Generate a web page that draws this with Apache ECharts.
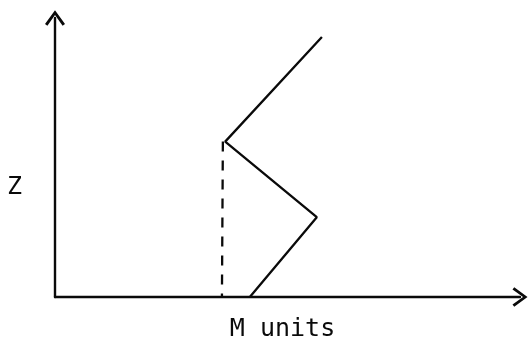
<!DOCTYPE html>
<html>
<head>
<meta charset="utf-8">
<style>
  html, body { margin: 0; padding: 0; background: #fff; }
  #chart { width: 528px; height: 347px; }
</style>
<script src="https://cdn.jsdelivr.net/npm/echarts@6/dist/echarts.min.js"></script>
</head>
<body>
<div id="chart"></div>
<script>
// Profile of M against height Z (arbitrary units)
const profileM = [41.9, 56.3, 36.6, 57.4];
const profileZ = [0, 28.6, 55.7, 93.2];

// Vertical reference drop from the lower kink down to the axis
const dropM = [36.1, 35.9];
const dropZ = [55.7, 0];

const xName = 'M units';
const yName = 'Z';

const toPairs = (xs, ys) => xs.map((x, i) => [x, ys[i]]);

// Open chevron used as the axis arrow head (points up before rotation)
const chevron = 'path://M0,0 L10,13.6 L7.6,15.4 L0,4.6 L-7.6,15.4 L-10,13.6 Z';

const ink = '#0a0a0a';
const font = '"DejaVu Sans Mono", "Liberation Mono", monospace';

const chart = echarts.init(document.getElementById('chart'), null, { renderer: 'canvas' });

chart.setOption({
  animation: false,
  backgroundColor: '#fff',
  grid: { left: 55, right: 8, top: 18, bottom: 49 },
  xAxis: {
    type: 'value',
    min: 0,
    max: 100,
    name: xName,
    nameLocation: 'middle',
    nameGap: 20,
    nameTextStyle: {
      color: ink, fontFamily: font, fontSize: 25,
      verticalAlign: 'top', padding: [0, 10, 0, 0]
    },
    axisLine: {
      show: true,
      onZero: false,
      symbol: ['none', chevron],
      symbolSize: [25, 15],
      lineStyle: { color: ink, width: 2.4 }
    },
    axisTick: { show: false },
    axisLabel: { show: false },
    splitLine: { show: false }
  },
  yAxis: {
    type: 'value',
    min: 0,
    max: 100,
    // empty first line pushes the letter below the axis midpoint
    name: '\n' + yName,
    nameLocation: 'middle',
    nameRotate: 0,
    nameGap: 33,
    nameTextStyle: {
      color: ink, fontFamily: font, fontSize: 25, lineHeight: 60
    },
    axisLine: {
      show: true,
      onZero: false,
      symbol: ['none', chevron],
      symbolSize: [20, 16],
      lineStyle: { color: ink, width: 2.4 }
    },
    axisTick: { show: false },
    axisLabel: { show: false },
    splitLine: { show: false }
  },
  series: [
    {
      type: 'line',
      data: toPairs(profileM, profileZ),
      symbol: 'none',
      lineStyle: { color: ink, width: 2.3 },
      z: 3
    },
    {
      type: 'line',
      data: toPairs(dropM, dropZ),
      symbol: 'none',
      lineStyle: { color: ink, width: 2.3, type: [10, 9] },
      z: 2
    }
  ]
});
</script>
</body>
</html>
